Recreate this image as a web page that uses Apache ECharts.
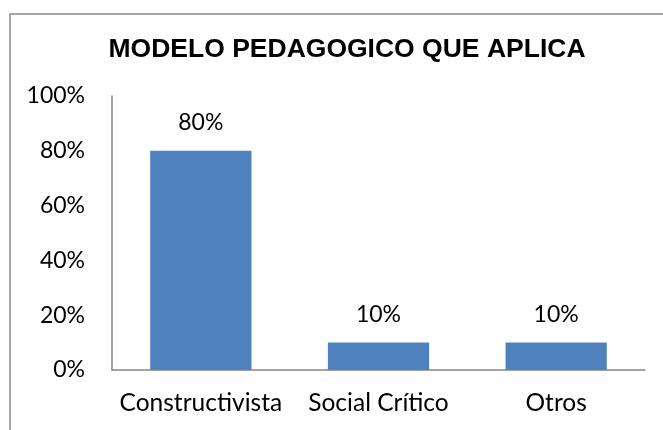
<!DOCTYPE html>
<html>
<head>
<meta charset="utf-8">
<script src="https://cdn.jsdelivr.net/npm/echarts@6/dist/echarts.min.js"></script>
<style>
  html, body { margin: 0; padding: 0; background: #ffffff; }
  #chart { width: 663px; height: 430px; }
</style>
</head>
<body>
<div id="chart"></div>
<script>
// Categories and shares (percent)
const categories = ['Constructivista', 'Social Crítico', 'Otros'];
const shares = [80, 10, 10];
const yTicks = [0, 20, 40, 60, 80, 100];

const labelFont = 'Lato, "Open Sans", sans-serif';

const chart = echarts.init(document.getElementById('chart'), null, { renderer: 'canvas' });

chart.setOption({
  backgroundColor: '#ffffff',
  animation: false,
  title: {
    text: 'MODELO PEDAGOGICO QUE APLICA',
    left: 342,
    textAlign: 'center',
    top: 31,
    textStyle: {
      fontFamily: '"Liberation Sans", Arial, sans-serif',
      fontWeight: 'bold',
      fontSize: 26.5,
      color: '#000000'
    }
  },
  graphic: [{
    type: 'rect',
    shape: { x: 10, y: 14, width: 700, height: 500 },
    style: { fill: 'none', stroke: '#8a8a8a', lineWidth: 1.5 },
    silent: true,
    z: 0
  }],
  grid: { left: 112, right: 18, top: 96, bottom: 60 },
  xAxis: {
    type: 'category',
    data: categories,
    axisLine: { show: true, lineStyle: { color: '#868686', width: 1.5 } },
    axisTick: { show: false },
    axisLabel: {
      interval: 0,
      margin: 21,
      fontFamily: labelFont,
      fontSize: 24.5,
      color: '#000000'
    },
    splitLine: { show: false }
  },
  yAxis: {
    type: 'value',
    min: yTicks[0],
    max: yTicks[yTicks.length - 1],
    interval: yTicks[1] - yTicks[0],
    axisLine: { show: true, lineStyle: { color: '#868686', width: 1.5 } },
    axisTick: { show: false },
    splitLine: { show: false },
    axisLabel: {
      margin: 27,
      fontFamily: labelFont,
      fontSize: 23,
      color: '#000000',
      formatter: v => v + '%'
    }
  },
  series: [{
    type: 'bar',
    data: shares,
    barWidth: '57%',
    itemStyle: { color: '#4F81BD' },
    label: {
      show: true,
      position: 'top',
      distance: 17,
      fontFamily: labelFont,
      fontSize: 23,
      color: '#000000',
      formatter: p => p.value + '%'
    }
  }]
});
</script>
</body>
</html>
